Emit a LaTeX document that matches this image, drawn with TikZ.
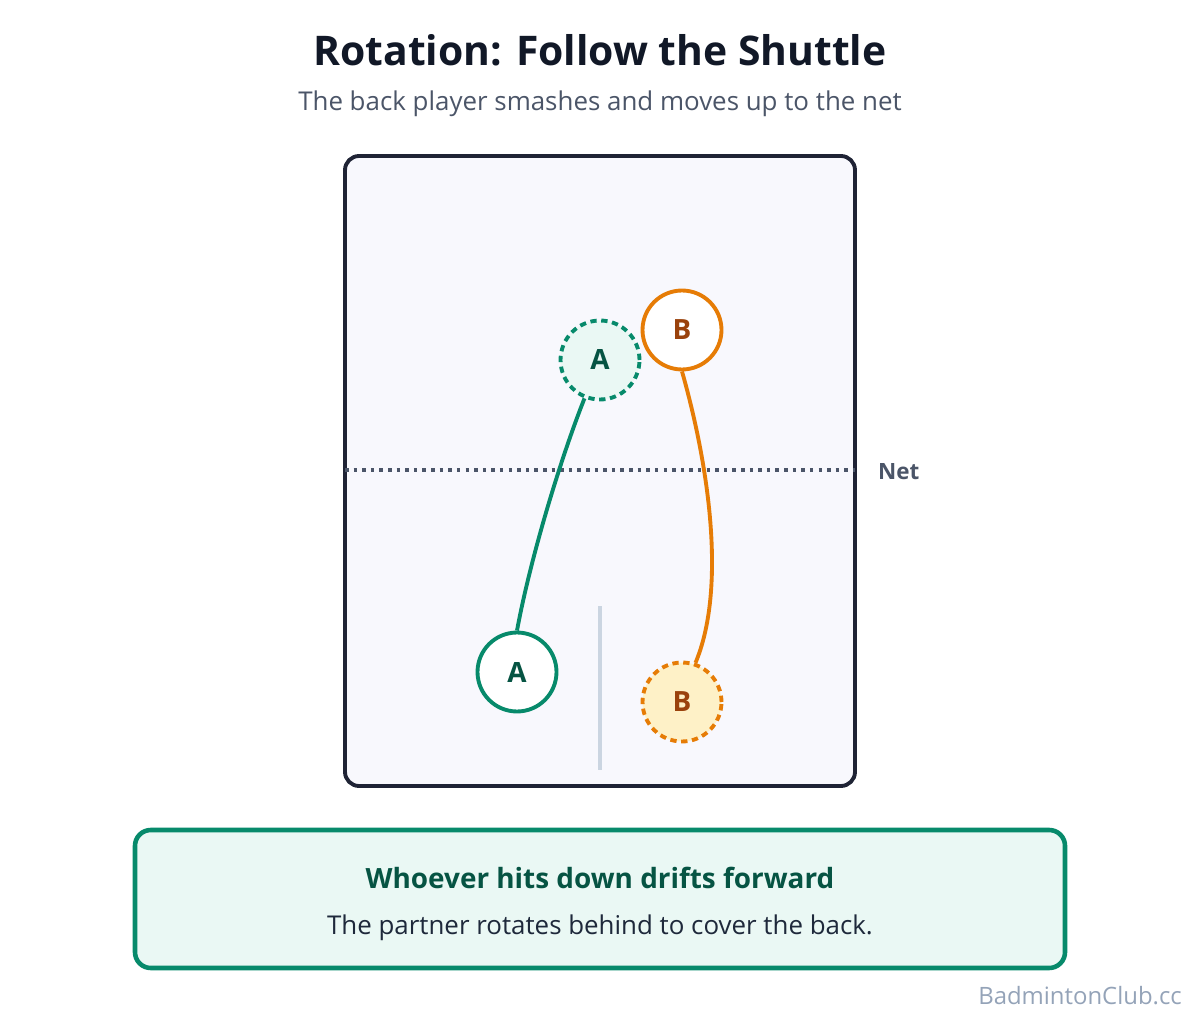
\documentclass[tikz,border=0pt]{standalone}
\usepackage{fontspec}
\setmainfont{Open Sans}
\usepackage{tikz}

\definecolor{ink}{HTML}{111827}
\definecolor{slate}{HTML}{4B5568}
\definecolor{courtline}{HTML}{1F2335}
\definecolor{courtfill}{HTML}{F8F8FD}
\definecolor{centreline}{HTML}{CBD5E1}
\definecolor{teal}{HTML}{078A6B}
\definecolor{tealdark}{HTML}{065443}
\definecolor{tealfill}{HTML}{EAF8F4}
\definecolor{amber}{HTML}{E67C06}
\definecolor{amberdark}{HTML}{9A420C}
\definecolor{amberfill}{HTML}{FEF1C7}
\definecolor{faint}{HTML}{94A3B8}
\definecolor{bodytext}{HTML}{1E293B}

\newcommand{\px}[1]{\fontsize{\the\dimexpr #1pt*567/1000\relax}{\the\dimexpr #1pt*680/1000\relax}\selectfont}

\begin{document}
\begin{tikzpicture}[x=0.02cm, y=-0.02cm,
    player/.style={circle, minimum size=1.58cm, inner sep=0pt, line width=2.2pt, font=\px{28}\bfseries},
    ghost/.style={player, dash pattern=on 3.6pt off 2.6pt}
  ]
            \useasboundingbox (0,0) rectangle (1200,1020);

            \node[text=ink, font=\px{41}\bfseries] (title) at (600,50) {Rotation: Follow the Shuttle};
            \node[text=slate, font=\px{26}] (subtitle) at (600,104) {The back player smashes and moves up to the net};

            % court
            \draw[courtline, fill=courtfill, line width=2.2pt, rounded corners=8pt] (345,156) rectangle (855,786);
            \coordinate (netL) at (345,470);
            \coordinate (netR) at (855,470);
            \draw[slate, line width=2pt, dash pattern=on 2pt off 2.9pt] (netL) -- (netR);
            \node[text=slate, font=\px{22.5}\bfseries, anchor=west] (net) at (872,472) {Net};
            \coordinate (midT) at (600,606);
            \coordinate (midB) at (600,770);
            \draw[centreline, line width=1.8pt] (midT) -- (midB);

            % players
            \node[player, draw=teal, fill=white, text=tealdark] (a1) at (517,672) {A};
            \node[ghost, draw=teal, fill=tealfill, text=tealdark] (a2) at (600,360) {A};
            \node[player, draw=amber, fill=white, text=amberdark] (b1) at (682,330) {B};
            \node[ghost, draw=amber, fill=amberfill, text=amberdark] (b2) at (682,702) {B};

            \draw[teal, line width=2.2pt] (a1.north) .. controls (530,560) and (560,460) .. (a2.248);
            \draw[amber, line width=2.2pt] (b1.south) .. controls (710,470) and (726,590) .. (b2.71);

            % takeaway
            \draw[teal, fill=tealfill, line width=2.6pt, rounded corners=9pt] (135,830) rectangle (1065,968);
            \node[text=tealdark, font=\px{28}\bfseries] (tip) at (600,878) {Whoever hits down drifts forward};
            \node[text=bodytext, font=\px{26}] (tipsub) at (600,928) {The partner rotates behind to cover the back.};

            \node[text=faint, font=\px{24}, anchor=east] (brand) at (1188,996) {BadmintonClub.cc};
        \end{tikzpicture}
\end{document}
